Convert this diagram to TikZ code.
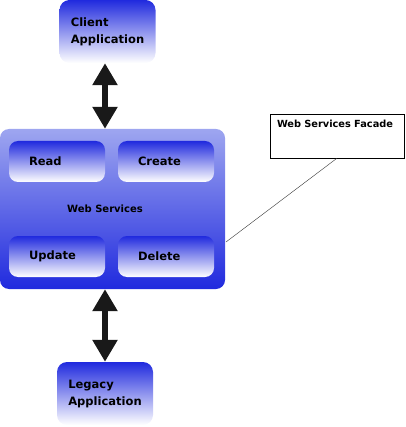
\documentclass[tikz,border=0pt]{standalone}
\usepackage{fontspec}
\setmainfont{DejaVu Sans}
\usepackage{xcolor}
\usetikzlibrary{arrows.meta}
\definecolor{wsdark}{RGB}{32,42,222}
\definecolor{wslight}{RGB}{158,166,240}

\begin{document}
\begin{tikzpicture}[x=1pt, y=-1pt,
appnode/.style={rectangle, rounded corners=10pt, top color=wsdark, bottom color=white, minimum width=96pt, minimum height=63pt, align=left, font=\fontsize{11.5}{17}\selectfont\bfseries},
wsnode/.style={rectangle, rounded corners=9pt, top color=wslight, bottom color=wsdark, minimum width=225pt, minimum height=160pt, font=\fontsize{10}{11}\selectfont\bfseries},
opnode/.style={rectangle, rounded corners=9pt, top color=wsdark, bottom color=white, minimum width=96pt, minimum height=41pt, inner xsep=20pt, text width=56pt, align=left, font=\fontsize{11.5}{13}\selectfont\bfseries},
facadenode/.style={rectangle, draw=black, fill=white, minimum width=134pt, inner xsep=7pt, inner ysep=6pt, text width=120pt, text height=8pt, text depth=24pt, align=left, font=\fontsize{9.8}{11}\selectfont\bfseries},
bigarrow/.style={draw=black!90, line width=6pt, {Triangle[width=24pt,length=22pt]}-{Triangle[width=24pt,length=22pt]}},
]
\useasboundingbox (0,0) rectangle (405,427);
%Nodes
\node[appnode](Client) at (107.5,31.5){Client\\Application};
\node[wsnode](WS) at (112.5,209){Web Services\kern15pt};
\node[opnode](Read) at (57,161.5){Read};
\node[opnode](Create) at (166,161.5){Create};
\node[opnode](Update) at (57,256.5){Update};
\node[opnode](Delete) at (166,256.5){Delete};
\node[appnode](Legacy) at (105,393.5){Legacy\\Application};
\node[facadenode](Facade) at (337,136){Web Services Facade};
\coordinate (WSedge) at (226,242);

%Lines
\draw[bigarrow] (Legacy |- Client.south) -- (Legacy |- WS.north);
\draw[bigarrow] (Legacy |- WS.south) -- (Legacy.north);
\draw[black!80, thin] (Facade.south) -- (WSedge);
\end{tikzpicture}
\end{document}
